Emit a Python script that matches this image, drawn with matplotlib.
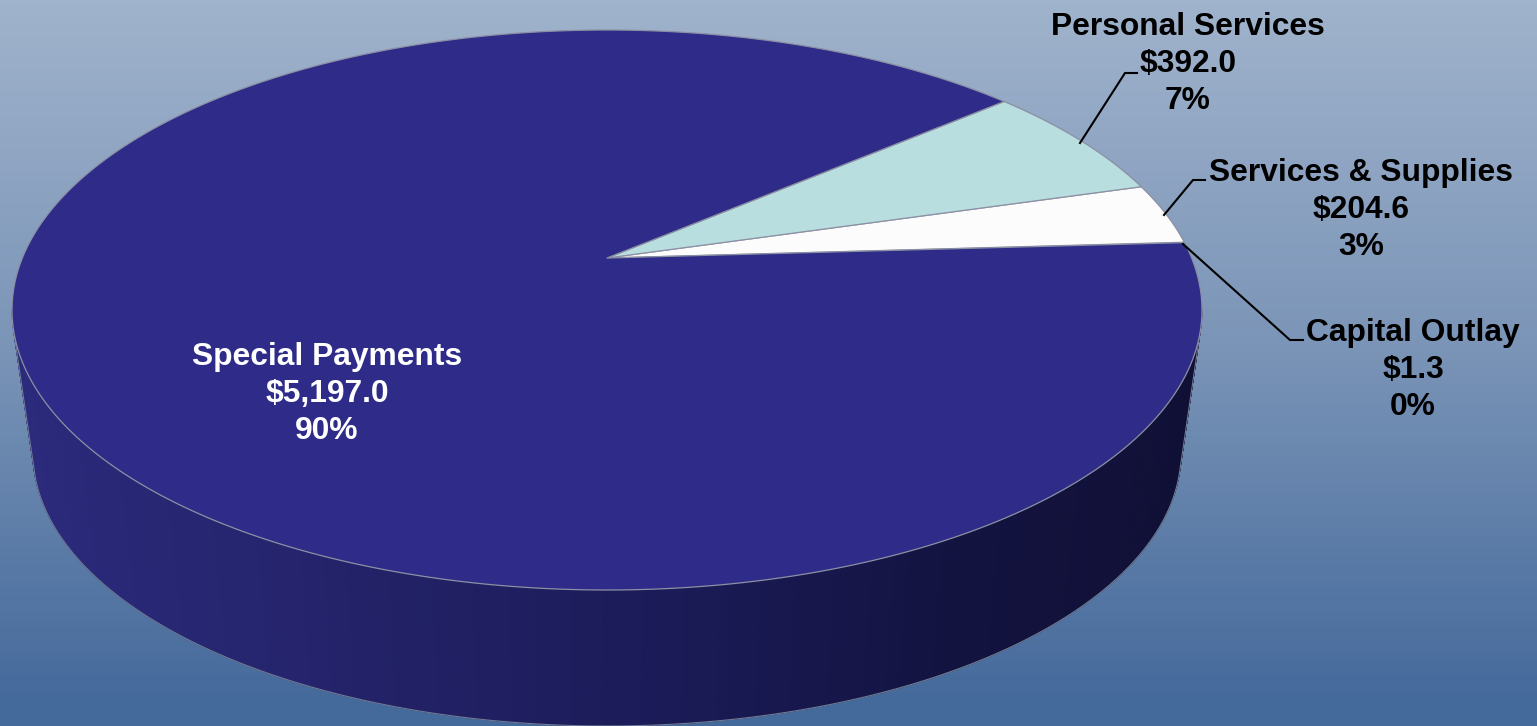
import numpy as np
import matplotlib
matplotlib.use("Agg")
import matplotlib.pyplot as plt
from matplotlib.patches import Polygon
from matplotlib.colors import LinearSegmentedColormap

categories = ["Capital Outlay", "Services & Supplies", "Personal Services", "Special Payments"]
values = [1.3, 204.6, 392.0, 5197.0]
value_labels = ["$1.3", "$204.6", "$392.0", "$5,197.0"]
pct_labels = ["0%", "3%", "7%", "90%"]

slice_colors = ["#FFFFFF", "#FCFCFC", "#B9DEDF", "#2E2C88"]
W, H = 1537, 726
plt.rcParams["font.family"] = ["Liberation Sans", "DejaVu Sans"]

fig = plt.figure(figsize=(W / 100, H / 100), dpi=100)
ax = fig.add_axes([0, 0, 1, 1])
ax.set_xlim(0, W)
ax.set_ylim(H, 0)
ax.axis("off")

# background gradient
yy, xx = np.mgrid[0:1:200j, 0:1:200j]
g = np.clip(yy * 1.03, 0, 1)
bg = LinearSegmentedColormap.from_list("bg", ["#A0B3CC", "#7A94B7", "#44699B"])
ax.imshow(g, cmap=bg, extent=[0, W, H, 0], aspect="auto", zorder=0, vmin=0, vmax=1)

# projection of the pie plane
CX, CY, RX, RY = 607.0, 310.0, 595.0, 280.0
APEX_Y = 258.0
TOP_Y, BOT_Y = CY - RY, CY + RY
k = (2 * APEX_Y - TOP_Y - BOT_Y) / (TOP_Y - BOT_Y)
a = TOP_Y * (1 + k) - APEX_Y
c = RX * np.sqrt(1 - k * k)


def project(deg):
    t = np.radians(deg)
    s, co = np.sin(t), np.cos(t)
    return CX + c * co / (1 + k * s), (a * s + APEX_Y) / (1 + k * s)


def lower_hull(points):
    """Part of the convex hull facing the bottom of the picture (largest y)."""
    pts = sorted(map(tuple, points))
    hull = []
    for p in pts:
        while len(hull) >= 2:
            (x1, y1), (x2, y2) = hull[-2], hull[-1]
            if (x2 - x1) * (p[1] - y1) - (y2 - y1) * (p[0] - x1) >= 0:
                hull.pop()
            else:
                break
        hull.append(p)
    return np.array(hull)


# side wall
LX, LY, LRX, LRY = 607.0, 453.0, 574.0, 273.0
side_cmap = LinearSegmentedColormap.from_list(
    "side", [(0, "#2B2A7C"), (0.3, "#232268"), (0.55, "#1B1B58"), (0.8, "#131340"), (1, "#101036")]
)
taus = np.radians(np.arange(180, 360.5, 0.5))
for t0, t1 in zip(taus[:-1], taus[1:]):
    xs = [CX + RX * np.cos(t0), CX + RX * np.cos(t1), LX + LRX * np.cos(t1), LX + LRX * np.cos(t0)]
    ys = [CY - RY * np.sin(t0), CY - RY * np.sin(t1), LY - LRY * np.sin(t1), LY - LRY * np.sin(t0)]
    col = side_cmap(np.clip((0.5 * (xs[2] + xs[3]) - 30) / 1150, 0, 1))
    ax.add_patch(Polygon(np.c_[xs, ys], closed=True, fc=col, ec=col, lw=0.6, zorder=1))
outline_pts = np.vstack([
    np.c_[CX + RX * np.cos(taus), CY - RY * np.sin(taus)],
    np.c_[LX + LRX * np.cos(taus), LY - LRY * np.sin(taus)],
])
outline = lower_hull(outline_pts)
ax.plot(outline[:, 0], outline[:, 1], color="#6F7C93", lw=0.8, zorder=1.5)

# top slices
fractions = np.array(values) / np.sum(values) * 360.0
start = 3.3
edges = start + np.r_[0, np.cumsum(fractions)]
for i, color in enumerate(slice_colors):
    ang = np.linspace(edges[i], edges[i + 1], max(int(fractions[i]) * 2, 3))
    px, py = project(ang)
    pts = np.vstack([[CX, APEX_Y], np.c_[px, py]])
    ax.add_patch(Polygon(pts, closed=True, fc=color, ec="#8C90A4", lw=0.9, zorder=2, joinstyle="round"))

# leader lines
leaders = {
    0: ([1183, 244, 1290, 340, 1303, 340]),
    1: ([1164, 215, 1193, 180, 1205, 180]),
    2: ([1080, 143, 1125, 73, 1137, 73]),
}
for pts in leaders.values():
    ax.plot(pts[0::2], pts[1::2], color="black", lw=1.5, zorder=3, solid_joinstyle="miter")

# labels
label_pos = [(1413, 333), (1361, 173), (1188, 27), (327, 357)]
label_col = ["black", "black", "black", "white"]
for name, val, pct, (x, y), col in zip(categories, value_labels, pct_labels, label_pos, label_col):
    for j, line in enumerate((name, val, pct)):
        ax.text(x, y + j * 37, line, ha="center", va="center", fontsize=22.9, fontweight="bold",
                color=col, zorder=4)

fig.savefig("out.png", dpi=100)
